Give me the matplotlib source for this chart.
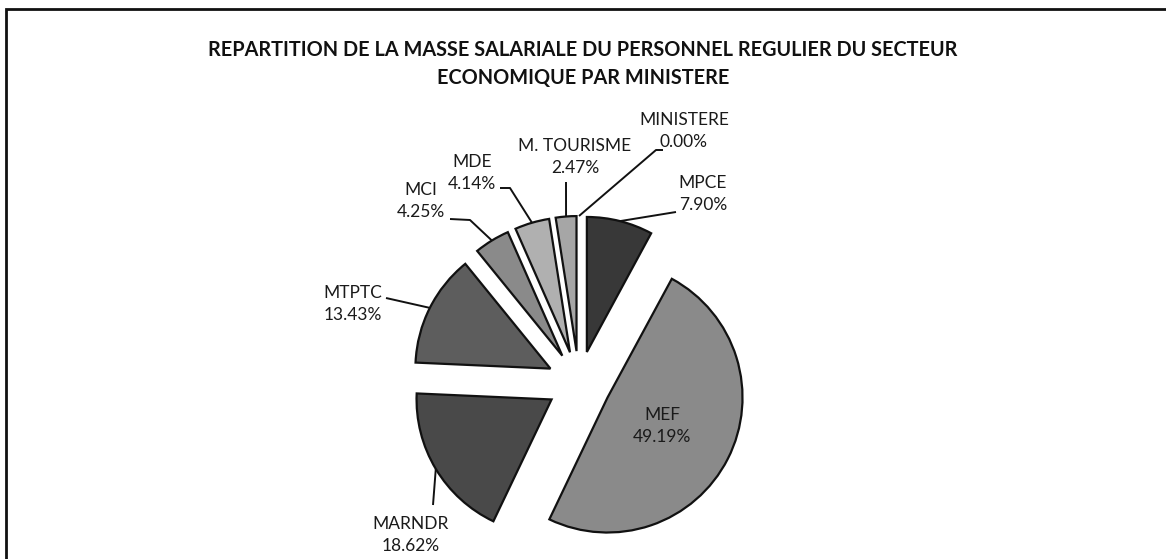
import numpy as np
import matplotlib
matplotlib.use("Agg")
import matplotlib.pyplot as plt
from matplotlib.patches import Rectangle

plt.rcParams['font.family'] = ['Lato', 'DejaVu Sans']

# ---- data ----
categories = ["MPCE", "MEF", "MARNDR", "MTPTC", "MCI", "MDE", "M. TOURISME", "MINISTERE"]
values = [7.90, 49.19, 18.62, 13.43, 4.25, 4.14, 2.47, 0.00]
pct_labels = ["7.90%", "49.19%", "18.62%", "13.43%", "4.25%", "4.14%", "2.47%", "0.00%"]
colors = ["#383838", "#8a8a8a", "#494949", "#5d5d5d", "#8a8a8a", "#b0b0b0", "#a6a6a6", "#999999"]
title = "REPARTITION DE LA MASSE SALARIALE DU PERSONNEL REGULIER DU SECTEUR\nECONOMIQUE PAR MINISTERE"

W, H = 1166, 559
fig = plt.figure(figsize=(W / 100, H / 100), dpi=100)
ax = fig.add_axes([0, 0, 1, 1])


def P(x, y):
    return (x, H - y)


center = P(579, 383)
radius = 135
explode = [32] * len(values)

wedges, _ = ax.pie(values, colors=colors, startangle=90, counterclock=False,
                   radius=radius, center=center, explode=explode,
                   wedgeprops=dict(edgecolor="#111111", linewidth=1.6))
for w, v in zip(wedges, values):
    if v == 0:
        w.set_linewidth(0)

ax.set_xlim(0, W)
ax.set_ylim(0, H)
ax.set_aspect('equal')
ax.axis('off')

# label layout (pixel coords from top-left): text centre, leader-line start points
label_pos = {
    "MPCE": (703, 194),
    "MEF": (662, 426),
    "MARNDR": (411, 535),
    "MTPTC": (353, 304),
    "MCI": (421, 201),
    "MDE": (472, 173),
    "M. TOURISME": (575, 157),
    "MINISTERE": (684, 131),
}
leader_start = {
    "MPCE": [(676, 212)],
    "MARNDR": [(433, 505)],
    "MTPTC": [(386, 298)],
    "MCI": [(450, 219), (470, 220)],
    "MDE": [(500, 188), (510, 188)],
    "M. TOURISME": [(566, 182)],
    "MINISTERE": [(663, 150), (656, 150)],
}

for w, cat, pl in zip(wedges, categories, pct_labels):
    tx, ty = label_pos[cat]
    ax.text(*P(tx, ty), f"{cat}\n{pl}", ha="center", va="center",
            fontsize=12.5, color="#1a1a1a", linespacing=1.4)
    if cat in leader_start:
        mid = np.deg2rad(0.5 * (w.theta1 + w.theta2))
        cx, cy = w.center
        anchor = (cx + w.r * np.cos(mid), cy + w.r * np.sin(mid))
        pts = [P(*p) for p in leader_start[cat]] + [anchor]
        ax.plot([p[0] for p in pts], [p[1] for p in pts], color="#111111",
                lw=1.4, solid_capstyle="butt")

fig.text(583 / W, 1 - 64 / H, title, ha="center", va="center", fontsize=14.3,
         fontweight="bold", color="#111111", linespacing=1.5)

# outer frame
fig.patches.append(Rectangle((6 / W, -0.05), 1.1, 1 - 9 / H + 0.05, transform=fig.transFigure,
                             fill=False, edgecolor="#111111", linewidth=2))

fig.savefig("out.png", dpi=100)
